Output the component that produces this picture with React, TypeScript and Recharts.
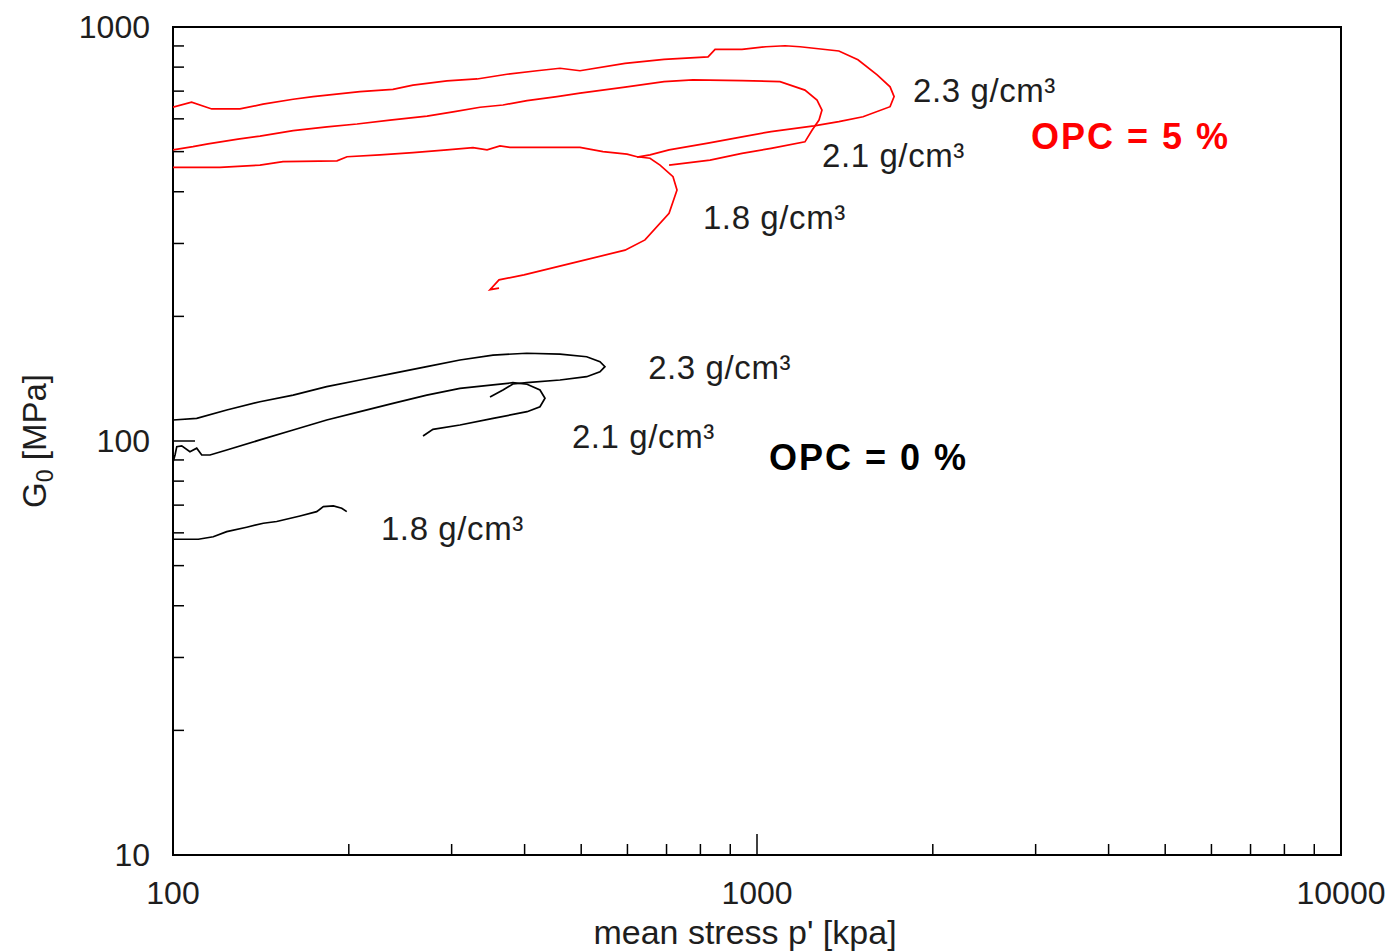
import React from 'react';
import { LineChart, Line, XAxis, YAxis, ReferenceArea, ReferenceDot } from 'recharts';

// mean stress p' [kPa] vs G0 [MPa]
const opc5Dens23 = [
  { p: 100, g: 640 }, { p: 107.6, g: 658 }, { p: 116.5, g: 634 }, { p: 130.2, g: 634 }, { p: 142.6, g: 651 },
  { p: 160.6, g: 669 }, { p: 173.7, g: 679 }, { p: 209, g: 698 }, { p: 238, g: 707 }, { p: 257.6, g: 724 },
  { p: 294.5, g: 741 }, { p: 331.6, g: 749 }, { p: 373.1, g: 769 }, { p: 420.1, g: 784 }, { p: 459.9, g: 795 },
  { p: 497.6, g: 784 }, { p: 594.3, g: 817 }, { p: 693.2, g: 835 }, { p: 824.5, g: 847 }, { p: 847.6, g: 883 },
  { p: 942.6, g: 883 }, { p: 1036, g: 896 }, { p: 1117, g: 901 }, { p: 1185, g: 896 }, { p: 1381, g: 875 },
  { p: 1489, g: 833 }, { p: 1606, g: 766 }, { p: 1690, g: 717 }, { p: 1717, g: 679 }, { p: 1690, g: 642 },
  { p: 1519, g: 607 }, { p: 1381, g: 591 }, { p: 1252, g: 577 }, { p: 1057, g: 559 }, { p: 942.6, g: 543 },
  { p: 824.5, g: 524 }, { p: 707, g: 505 }, { p: 655.8, g: 491 }, { p: 623.2, g: 485 },
];

const opc5Dens21 = [
  { p: 100, g: 505 }, { p: 108.2, g: 514 }, { p: 114.8, g: 522 }, { p: 129.2, g: 536 }, { p: 140.9, g: 545 },
  { p: 160.6, g: 562 }, { p: 183.5, g: 574 }, { p: 206.6, g: 583 }, { p: 235.3, g: 596 }, { p: 272.3, g: 609 },
  { p: 301.7, g: 624 }, { p: 335.6, g: 640 }, { p: 367.3, g: 648 }, { p: 403.9, g: 664 }, { p: 454.5, g: 679 },
  { p: 497.6, g: 692 }, { p: 594.3, g: 716 }, { p: 693.2, g: 738 }, { p: 777, g: 745 }, { p: 942.6, g: 742 },
  { p: 1095, g: 738 }, { p: 1208, g: 704 }, { p: 1267, g: 666 }, { p: 1292, g: 630 }, { p: 1277, g: 596 },
  { p: 1243, g: 564 }, { p: 1208, g: 528 }, { p: 1057, g: 509 }, { p: 942.6, g: 495 }, { p: 831, g: 477 },
  { p: 707, g: 464 },
];

const opc5Dens18 = [
  { p: 100, g: 458 }, { p: 120.3, g: 458 }, { p: 140.9, g: 464 }, { p: 154.3, g: 473 }, { p: 190.9, g: 475 },
  { p: 198.6, g: 486 }, { p: 226.2, g: 491 }, { p: 257.6, g: 497 }, { p: 294.5, g: 505 }, { p: 326.4, g: 511 },
  { p: 345, g: 505 }, { p: 363, g: 516 }, { p: 377.6, g: 512 }, { p: 497.6, g: 512 }, { p: 544.8, g: 500 },
  { p: 599, g: 493 }, { p: 623.2, g: 486 }, { p: 655.8, g: 482 }, { p: 682.3, g: 464 }, { p: 718.1, g: 435 },
  { p: 729.5, g: 404 }, { p: 707, g: 355 }, { p: 643, g: 306 }, { p: 594.3, g: 289 }, { p: 482.2, g: 269 },
  { p: 399, g: 252 }, { p: 361.6, g: 245 }, { p: 349, g: 232 }, { p: 361.6, g: 234 },
];

const opc0Dens23 = [
  { p: 100, g: 112.4 }, { p: 109.8, g: 113.4 }, { p: 123.6, g: 118.8 }, { p: 140.9, g: 124.4 }, { p: 160.6, g: 129.1 },
  { p: 183.3, g: 135.3 }, { p: 209, g: 140.4 }, { p: 238, g: 145.7 }, { p: 272, g: 151.2 }, { p: 310, g: 156.9 },
  { p: 353.2, g: 161.3 }, { p: 403.3, g: 162.9 }, { p: 459.9, g: 162.2 }, { p: 510.9, g: 159.8 }, { p: 538.4, g: 155.4 },
  { p: 549, g: 151.2 }, { p: 538.4, g: 147 }, { p: 510.9, g: 143 }, { p: 459.9, g: 140.4 }, { p: 403.3, g: 138.3 },
  { p: 382, g: 137.3 }, { p: 367.3, g: 132.8 }, { p: 349, g: 127.7 },
];

const opc0Dens21 = [
  { p: 100, g: 89 }, { p: 100.8, g: 92.5 }, { p: 101.5, g: 96.9 }, { p: 103.5, g: 97.3 }, { p: 106.9, g: 94.2 },
  { p: 109.8, g: 96.1 }, { p: 112, g: 92.5 }, { p: 115.7, g: 92.5 }, { p: 123.6, g: 95.1 }, { p: 140.9, g: 100.6 },
  { p: 160.6, g: 106.3 }, { p: 183.3, g: 112.4 }, { p: 209, g: 117.7 }, { p: 238, g: 123.3 }, { p: 272, g: 129.1 },
  { p: 310, g: 134 }, { p: 353.2, g: 136.6 }, { p: 382, g: 138.3 }, { p: 403.9, g: 137.1 }, { p: 425, g: 132.8 },
  { p: 433.5, g: 126.8 }, { p: 425, g: 121 }, { p: 403.9, g: 117.7 }, { p: 353.2, g: 113.4 }, { p: 310, g: 109.3 },
  { p: 278.7, g: 106.7 }, { p: 268, g: 102.8 },
];

const opc0Dens18 = [
  { p: 100, g: 57.9 }, { p: 110.5, g: 57.9 }, { p: 117.2, g: 58.7 }, { p: 123.6, g: 60.4 }, { p: 133.7, g: 61.9 },
  { p: 142.8, g: 63.3 }, { p: 150.5, g: 63.9 }, { p: 165, g: 65.9 }, { p: 176.2, g: 67.5 }, { p: 180.9, g: 69.4 },
  { p: 188.2, g: 69.7 }, { p: 194.5, g: 68.8 }, { p: 198.4, g: 67.5 },
];

const xTicks = [100, 200, 300, 400, 500, 600, 700, 800, 900, 1000, 2000, 3000, 4000, 5000, 6000, 7000, 8000, 9000, 10000];
const xMajor = [100, 1000, 10000];
const yTicks = [10, 20, 30, 40, 50, 60, 70, 80, 90, 100, 200, 300, 400, 500, 600, 700, 800, 900, 1000];
const yMajor = [10, 100, 1000];

const densityLabels = ['2.3 g/cm³', '2.1 g/cm³', '1.8 g/cm³'];
const opc5LabelAt = [{ p: 1850, g: 704 }, { p: 1292, g: 491 }, { p: 808, g: 348 }];
const opc0LabelAt = [{ p: 651, g: 151 }, { p: 482, g: 102.8 }, { p: 227, g: 61.7 }];
const groupTitles = ['OPC = 5 %', 'OPC = 0 %'];
const groupTitleAt = [{ p: 2946, g: 545 }, { p: 1048, g: 91.5 }];

const FONT = '"Liberation Sans", Arial, Helvetica, sans-serif';
const RED = '#ff0000';
const TEXT = '#1e1e1e';
const TS = 6; // tickSize
const TM = 4; // tickMargin

const XTick = (props: any) => {
  const { x, payload } = props;
  const y = props.y - TS - TM; // axis line position
  const v = payload.value;
  const major = xMajor.includes(v);
  return (
    <g>
      <line x1={x} x2={x} y1={y} y2={y - (major ? 21 : 11)} stroke="#000" strokeWidth={1.5} />
      {major && (
        <text x={x} y={y + 49} textAnchor="middle" fontSize={32} fontFamily={FONT} fill={TEXT}>
          {v}
        </text>
      )}
    </g>
  );
};

const YTick = (props: any) => {
  const { y, payload } = props;
  const x = props.x + TS + TM; // axis line position
  const v = payload.value;
  const major = yMajor.includes(v);
  return (
    <g>
      <line x1={x} x2={x + (major ? 22 : 11)} y1={y} y2={y} stroke="#000" strokeWidth={1.5} />
      {major && (
        <text x={x - 23} y={y + 11} textAnchor="end" fontSize={32} fontFamily={FONT} fill={TEXT}>
          {v}
        </text>
      )}
    </g>
  );
};

const labelStyle = (fill: string, bold: boolean, size: number, spacing: number) => ({
  position: 'right' as const,
  offset: 0,
  fill,
  fontSize: size,
  fontFamily: FONT,
  fontWeight: bold ? 700 : 400,
  letterSpacing: spacing,
});

export default function App() {
  const lineProps = { type: 'linear' as const, dataKey: 'g', dot: false, isAnimationActive: false, strokeWidth: 1.7 };
  return (
    <div style={{ position: 'absolute', left: 0, top: 0, background: '#fff' }}>
      <div style={{ position: 'relative', width: 1392, height: 952 }}>
        <LineChart width={1392} height={952} margin={{ top: 27, right: 51, bottom: 0, left: 0 }}>
          <XAxis
            dataKey="p"
            type="number"
            scale="log"
            domain={[100, 10000]}
            allowDataOverflow
            ticks={xTicks}
            interval={0}
            height={97}
            tickSize={TS}
            tickMargin={TM}
            tickLine={false}
            axisLine={false}
            tick={<XTick />}
          />
          <YAxis
            dataKey="g"
            type="number"
            scale="log"
            domain={[10, 1000]}
            allowDataOverflow
            ticks={yTicks}
            interval={0}
            width={173}
            tickSize={TS}
            tickMargin={TM}
            tickLine={false}
            axisLine={false}
            tick={<YTick />}
          />
          <ReferenceArea x1={100} x2={10000} y1={10} y2={1000} fill="none" stroke="#000" strokeWidth={2} />
          <Line {...lineProps} data={opc5Dens23} stroke={RED} name="OPC 5% 2.3" />
          <Line {...lineProps} data={opc5Dens21} stroke={RED} name="OPC 5% 2.1" />
          <Line {...lineProps} data={opc5Dens18} stroke={RED} name="OPC 5% 1.8" />
          <Line {...lineProps} data={opc0Dens23} stroke="#000" name="OPC 0% 2.3" />
          <Line {...lineProps} data={opc0Dens21} stroke="#000" name="OPC 0% 2.1" />
          <Line {...lineProps} data={opc0Dens18} stroke="#000" name="OPC 0% 1.8" />
          {densityLabels.map((t, i) => (
            <ReferenceDot key={'r' + i} x={opc5LabelAt[i].p} y={opc5LabelAt[i].g} r={0} fill="none" stroke="none"
              label={{ value: t, ...labelStyle(TEXT, false, 33, 0.6) }} />
          ))}
          {densityLabels.map((t, i) => (
            <ReferenceDot key={'b' + i} x={opc0LabelAt[i].p} y={opc0LabelAt[i].g} r={0} fill="none" stroke="none"
              label={{ value: t, ...labelStyle(TEXT, false, 33, 0.6) }} />
          ))}
          <ReferenceDot x={groupTitleAt[0].p} y={groupTitleAt[0].g} r={0} fill="none" stroke="none"
            label={{ value: groupTitles[0], ...labelStyle(RED, true, 36, 2) }} />
          <ReferenceDot x={groupTitleAt[1].p} y={groupTitleAt[1].g} r={0} fill="none" stroke="none"
            label={{ value: groupTitles[1], ...labelStyle('#000', true, 36, 2) }} />
        </LineChart>
        <svg width={1392} height={952} style={{ position: 'absolute', left: 0, top: 0, pointerEvents: 'none' }}>
          <text x={745} y={944} textAnchor="middle" fontSize={34} fontFamily={FONT} fill={TEXT}>
            mean stress p' [kpa]
          </text>
          <text transform="translate(46,441) rotate(-90)" textAnchor="middle" fontSize={33} fontFamily={FONT} fill={TEXT}>
            G
            <tspan fontSize={23} dy={7}>0</tspan>
            <tspan dy={-7}> [MPa]</tspan>
          </text>
        </svg>
      </div>
    </div>
  );
}
